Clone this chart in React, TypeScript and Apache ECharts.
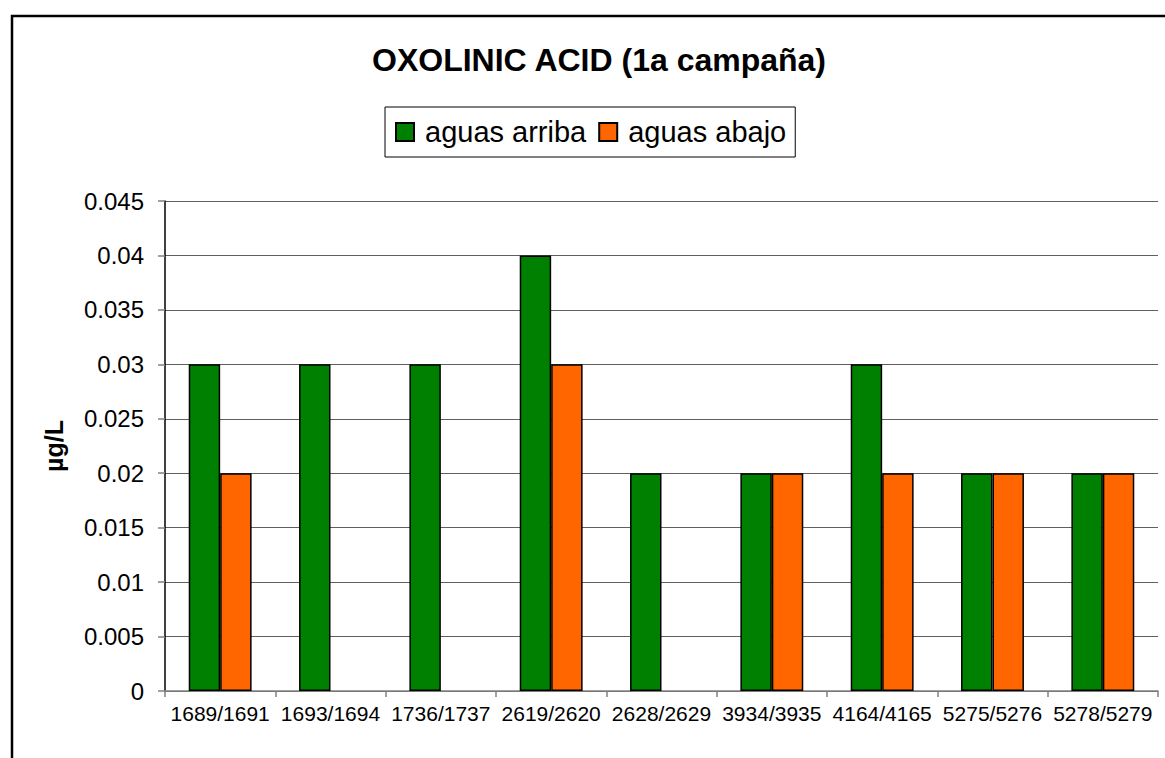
import React, { useEffect, useRef } from "react";
import * as echarts from "echarts";

const categories = [
  "1689/1691",
  "1693/1694",
  "1736/1737",
  "2619/2620",
  "2628/2629",
  "3934/3935",
  "4164/4165",
  "5275/5276",
  "5278/5279",
];
const aguasArriba = [0.03, 0.03, 0.03, 0.04, 0.02, 0.02, 0.03, 0.02, 0.02];
const aguasAbajo = [0.02, null, null, 0.03, null, 0.02, 0.02, 0.02, 0.02];
const seriesNames = ["aguas arriba", "aguas abajo"];
const titleText = "OXOLINIC ACID (1a campaña)";
const yAxisName = "µg/L";

export default function App() {
  const ref = useRef<HTMLDivElement>(null);
  useEffect(() => {
    document.body.style.margin = "0";
    const chart = echarts.init(ref.current!, null, { renderer: "svg" });
    const font = "Liberation Sans, Arial, sans-serif";
    chart.setOption({
      animation: false,
      backgroundColor: "#fff",
      textStyle: { fontFamily: font },
      title: {
        text: titleText,
        left: 594,
        textAlign: "center",
        top: 39,
        textStyle: { fontSize: 32, fontWeight: "bold", color: "#000", fontFamily: font },
      },
      legend: {
        left: 385,
        top: 107,
        padding: [9, 9, 9, 10],
        itemGap: 12,
        itemWidth: 18,
        itemHeight: 18,
        icon: "rect",
        borderColor: "#000",
        borderWidth: 1,
        textStyle: { fontSize: 29, color: "#000", lineHeight: 32, padding: [0, 0, 0, 6], fontFamily: font },
        data: seriesNames,
      },
      grid: { left: 165, top: 201, width: 993, height: 490, containLabel: false },
      xAxis: {
        type: "category",
        data: categories,
        axisLine: { lineStyle: { color: "#808080", width: 1.5 } },
        axisTick: { show: true, length: 6, lineStyle: { color: "#808080", width: 1.5 } },
        axisLabel: { interval: 0, fontSize: 21, color: "#000", margin: 12, fontFamily: font },
      },
      yAxis: {
        type: "value",
        min: 0,
        max: 0.045,
        interval: 0.005,
        name: yAxisName,
        nameLocation: "middle",
        nameRotate: 90,
        nameGap: 99,
        nameTextStyle: { fontSize: 25, fontWeight: "bold", color: "#000", fontFamily: font },
        axisLine: { show: true, lineStyle: { color: "#000", width: 1.5 } },
        axisTick: { show: true, length: 7, lineStyle: { color: "#808080", width: 1.5 } },
        axisLabel: {
          fontSize: 24,
          color: "#000",
          margin: 21,
          fontFamily: font,
          formatter: (v: number) => String(+v.toFixed(3)),
        },
        splitLine: { show: true, lineStyle: { color: "#606060", width: 1.2 } },
      },
      series: [
        {
          name: seriesNames[0],
          type: "bar",
          data: aguasArriba,
          barGap: "0%",
          barCategoryGap: "43%",
          itemStyle: { color: "#008000", borderColor: "#000", borderWidth: 1.5 },
        },
        {
          name: seriesNames[1],
          type: "bar",
          data: aguasAbajo,
          barGap: "0%",
          barCategoryGap: "43%",
          itemStyle: { color: "#FF6600", borderColor: "#000", borderWidth: 1.5 },
        },
      ],
      graphic: [
        {
          type: "rect",
          left: 9.5,
          top: 13.5,
          shape: { x: 0, y: 0, width: 1300, height: 900 },
          style: { fill: "none", stroke: "#000", lineWidth: 2.5 },
          silent: true,
        },
      ],
    });
    return () => chart.dispose();
  }, []);
  return <div ref={ref} style={{ width: 1165, height: 758 }} />;
}
